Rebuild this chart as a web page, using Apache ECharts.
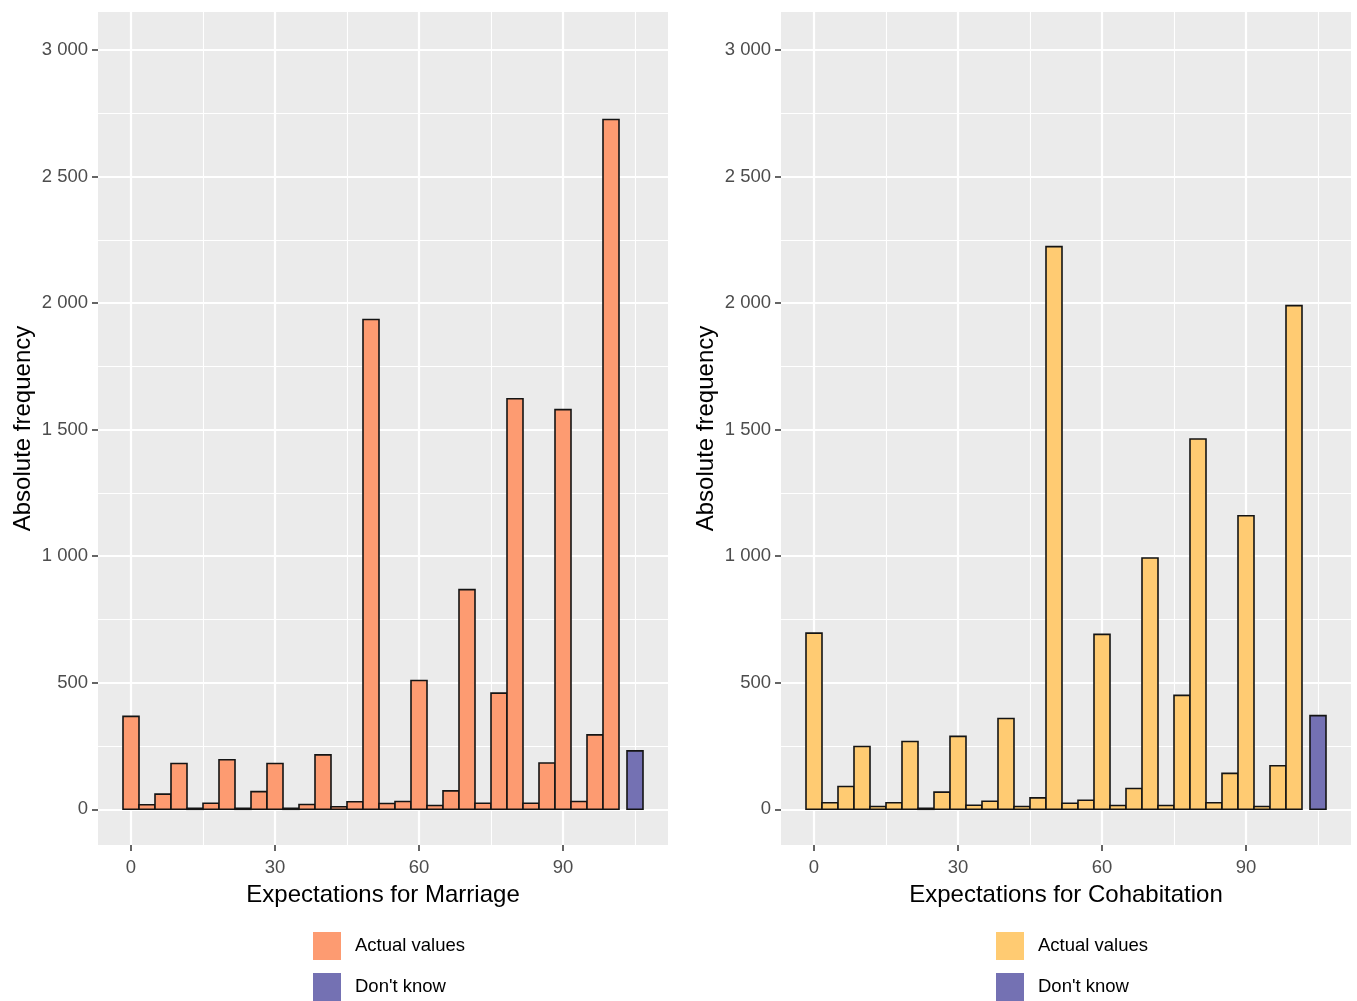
<!DOCTYPE html>
<html>
<head>
<meta charset="utf-8">
<script src="https://cdn.jsdelivr.net/npm/echarts@6/dist/echarts.min.js"></script>
<style>
html,body{margin:0;padding:0;background:#fff;}
#chart{width:1357px;height:1001px;}
</style>
</head>
<body>
<div id="chart"></div>
<script>
// ---- Data ----
const binCenters = [0, 3.333, 6.667, 10, 13.333, 16.667, 20, 23.333, 26.667, 30,
  33.333, 36.667, 40, 43.333, 46.667, 50, 53.333, 56.667, 60, 63.333,
  66.667, 70, 73.333, 76.667, 80, 83.333, 86.667, 90, 93.333, 96.667, 100];
const marriageCounts = [367, 18, 60, 181, 4, 24, 196, 4, 70, 181,
  4, 19, 215, 10, 30, 1935, 23, 31, 509, 15,
  73, 868, 24, 459, 1622, 24, 183, 1579, 31, 294, 2725];
const marriageDontKnow = 231;
const cohabCounts = [696, 26, 90, 248, 11, 26, 268, 4, 68, 288,
  16, 32, 359, 11, 45, 2223, 24, 36, 691, 15,
  82, 993, 15, 450, 1463, 26, 142, 1160, 11, 172, 1990];
const cohabDontKnow = 370;
const dontKnowPosition = 105;
const binWidth = 10 / 3;
const xTicks = [0, 30, 60, 90];
const xMinor = [15, 45, 75, 105];
const yTicks = [0, 500, 1000, 1500, 2000, 2500, 3000];
const yMinor = [250, 750, 1250, 1750, 2250, 2750];
const xTitles = ['Expectations for Marriage', 'Expectations for Cohabitation'];
const legendNames = ['Actual values', "Don't know"];

// ---- Styles ----
const FONT = '"Liberation Sans", Arial, sans-serif';
const actualColors = ['#FD9B71', '#FFCB72'];
const dkColor = '#7471B3';
const panelLefts = [98, 781];
const legendLefts = [313, 996];
const legendTops = [932, 973];

function fmt(v){ return String(v).replace(/\B(?=(\d{3})+(?!\d))/g, ' '); }

const chart = echarts.init(document.getElementById('chart'), null, {renderer:'canvas'});

const grids = [], xAxes = [], yAxes = [], series = [], legends = [];

function barRender(color){
  return function(params, api){
    const x = api.value(0), y = api.value(1);
    const p0 = api.coord([x - binWidth/2, y]);
    const p1 = api.coord([x + binWidth/2, 0]);
    return {
      type: 'rect',
      shape: {x: p0[0], y: p0[1], width: p1[0]-p0[0], height: p1[1]-p0[1]},
      style: {fill: color, stroke: '#141414', lineWidth: 1.6}
    };
  };
}

const hiddenLine = {show: true, onZero: false, lineStyle: {color: 'rgba(0,0,0,0)', width: 0}};

[0,1].forEach(function(i){
  const counts = i === 0 ? marriageCounts : cohabCounts;
  const dk = i === 0 ? marriageDontKnow : cohabDontKnow;
  grids.push({left: panelLefts[i], top: 12, width: 570, height: 833,
    show: true, backgroundColor: '#EBEBEB', borderWidth: 0, containLabel: false});
  xAxes.push({
    type: 'value', gridIndex: i, min: -6.875, max: 111.875,
    name: xTitles[i], nameLocation: 'middle', nameGap: 38,
    nameTextStyle: {fontFamily: FONT, fontSize: 24, color: '#000'},
    axisLine: hiddenLine,
    axisTick: {show: true, inside: false, length: 6, customValues: xTicks, lineStyle: {color: '#333333', width: 1.5}},
    axisLabel: {customValues: xTicks, fontFamily: FONT, fontSize: 18.5, color: '#4D4D4D', margin: 13},
    splitLine: {show: false}
  });
  yAxes.push({
    type: 'value', gridIndex: i, min: -141, max: 3150,
    name: 'Absolute frequency', nameLocation: 'middle', nameGap: 63, nameRotate: 90,
    nameTextStyle: {fontFamily: FONT, fontSize: 24, color: '#000'},
    axisLine: hiddenLine,
    axisTick: {show: true, inside: false, length: 6, customValues: yTicks, lineStyle: {color: '#333333', width: 1.5}},
    axisLabel: {customValues: yTicks, fontFamily: FONT, fontSize: 18.5, color: '#4D4D4D', margin: 10,
      padding: [8, 0, 0, 0], formatter: fmt},
    splitLine: {show: false}
  });
  const gridData = [];
  xTicks.forEach(v => gridData.push({xAxis: v, lineStyle: {width: 2.2}}));
  xMinor.forEach(v => gridData.push({xAxis: v, lineStyle: {width: 1.1}}));
  yTicks.forEach(v => gridData.push({yAxis: v, lineStyle: {width: 2.2}}));
  yMinor.forEach(v => gridData.push({yAxis: v, lineStyle: {width: 1.1}}));
  series.push({
    type: 'line', xAxisIndex: i, yAxisIndex: i, data: [], z: 1, silent: true,
    markLine: {silent: true, symbol: 'none', z: 1, animation: false, label: {show: false},
      lineStyle: {color: '#FFFFFF', type: 'solid'}, emphasis: {disabled: true}, data: gridData}
  });
  series.push({
    type: 'custom', name: legendNames[0], xAxisIndex: i, yAxisIndex: i, z: 3,
    itemStyle: {color: actualColors[i]},
    renderItem: barRender(actualColors[i]),
    encode: {x: 0, y: 1},
    data: binCenters.map((c, k) => [c, counts[k]])
  });
  series.push({
    type: 'custom', name: legendNames[1], xAxisIndex: i, yAxisIndex: i, z: 3,
    itemStyle: {color: dkColor},
    renderItem: barRender(dkColor),
    encode: {x: 0, y: 1},
    data: [[dontKnowPosition, dk]]
  });
  [0,1].forEach(function(j){
    legends.push({
      left: legendLefts[i], top: legendTops[j], orient: 'vertical', padding: 0,
      itemWidth: 28, itemHeight: 28, icon: 'rect', selectedMode: false,
      textStyle: {fontFamily: FONT, fontSize: 18.5, color: '#000', padding: [0,0,0,9]},
      itemStyle: {borderWidth: 0},
      data: [{name: legendNames[j], itemStyle: {color: j === 0 ? actualColors[i] : dkColor, borderWidth: 0}}]
    });
  });
});

chart.setOption({
  animation: false,
  backgroundColor: '#FFFFFF',
  grid: grids, xAxis: xAxes, yAxis: yAxes, series: series, legend: legends
});
</script>
</body>
</html>
